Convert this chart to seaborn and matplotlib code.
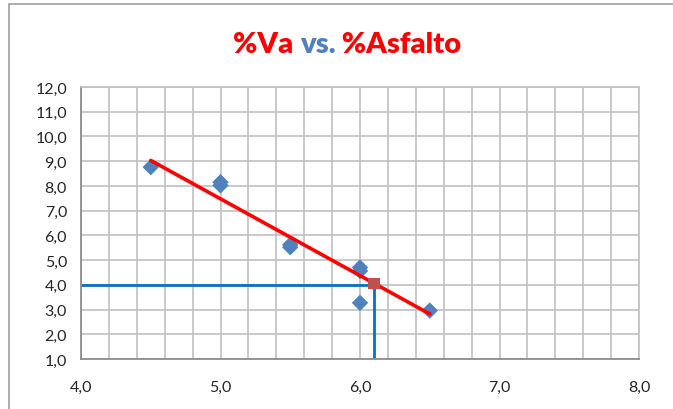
import matplotlib
matplotlib.use("Agg")
import matplotlib.pyplot as plt
import seaborn as sns
import pandas as pd
from matplotlib.patches import Rectangle
from matplotlib.ticker import MultipleLocator, FuncFormatter

# data
asfalto = [4.5, 5.0, 5.0, 5.5, 5.5, 6.0, 6.0, 6.0, 6.5]
va = [8.76, 8.15, 8.02, 5.62, 5.52, 4.70, 4.56, 3.27, 2.96]

trend_x = [4.5, 6.5]
trend_y = [9.03, 2.82]

design_x = [6.1]
design_y = [4.06]

guide_h_x = [4.0, 6.1]
guide_h_y = [4.0, 4.0]
guide_v_x = [6.1, 6.1]
guide_v_y = [1.0, 4.0]

x_ticks = [4.0, 5.0, 6.0, 7.0, 8.0]
y_ticks = [1.0, 2.0, 3.0, 4.0, 5.0, 6.0, 7.0, 8.0, 9.0, 10.0, 11.0, 12.0]

df = pd.DataFrame({"asfalto": asfalto, "va": va})

sns.set_theme(style="white")
plt.rcParams["font.family"] = ["Lato", "DejaVu Sans"]

fig = plt.figure(figsize=(6.73, 4.10), dpi=100)
ax = fig.add_axes([81 / 673, 50 / 410, 558 / 673, 272 / 410])

# outer chart frame
fig.patches.append(Rectangle((9 / 673, -0.05), 1.1, 1 - 5 / 410 + 0.05,
                             transform=fig.transFigure, fill=False,
                             edgecolor="#a6a6a6", linewidth=1.3, zorder=0))

grid_c = "#c0c0c0"
axis_c = "#8c8c8c"

ax.set_xlim(x_ticks[0], x_ticks[-1])
ax.set_ylim(y_ticks[0], y_ticks[-1])
ax.set_xticks(x_ticks)
ax.set_yticks(y_ticks)
ax.xaxis.set_minor_locator(MultipleLocator(0.2))
ax.grid(which="major", color=grid_c, linewidth=1.2)
ax.grid(which="minor", axis="x", color=grid_c, linewidth=1.2)
ax.set_axisbelow(True)

fmt = FuncFormatter(lambda v, p: f"{v:.1f}".replace(".", ","))
ax.xaxis.set_major_formatter(fmt)
ax.yaxis.set_major_formatter(fmt)
ax.tick_params(which="major", direction="out", length=5, width=1.2, color=axis_c,
               labelsize=11.5, labelcolor="#262626")
ax.tick_params(axis="x", which="major", pad=10)
ax.tick_params(axis="y", which="major", pad=5)
ax.tick_params(which="minor", length=0)

for side in ["top", "right"]:
    ax.spines[side].set_color(grid_c)
    ax.spines[side].set_linewidth(1.2)
for side in ["left", "bottom"]:
    ax.spines[side].set_color(axis_c)
    ax.spines[side].set_linewidth(1.3)

# guide lines
ax.plot(guide_h_x, guide_h_y, color="#0a70c0", linewidth=2, zorder=2)
ax.plot(guide_v_x, guide_v_y, color="#0a70c0", linewidth=2, zorder=2)

# data points
sns.scatterplot(data=df, x="asfalto", y="va", marker="D", s=70, color="#4f81bd",
                edgecolor="none", ax=ax, zorder=3)

# trend line
sns.lineplot(x=trend_x, y=trend_y, color="#ff0000", linewidth=2.6, ax=ax, zorder=4)

# design point
ax.scatter(design_x, design_y, marker="s", s=70, color="#c0504d", zorder=5,
           edgecolors="none")

ax.set_xlabel("")
ax.set_ylabel("")

# title in coloured pieces
parts = [("%Va ", "#ff0000"), ("vs.", "#4f81bd"), (" %Asfalto", "#ff0000")]
fig.canvas.draw()
renderer = fig.canvas.get_renderer()
texts = []
for s, c in parts:
    t = fig.text(0, 1 - 45 / 410, s, color=c, fontsize=21, fontweight="heavy",
                 va="center", ha="left")
    texts.append(t)
widths = [t.get_window_extent(renderer).width for t in texts]
total = sum(widths)
x0 = 347 - total / 2
for t, w in zip(texts, widths):
    t.set_x(x0 / 673)
    x0 += w

fig.savefig("out.png", dpi=100)
